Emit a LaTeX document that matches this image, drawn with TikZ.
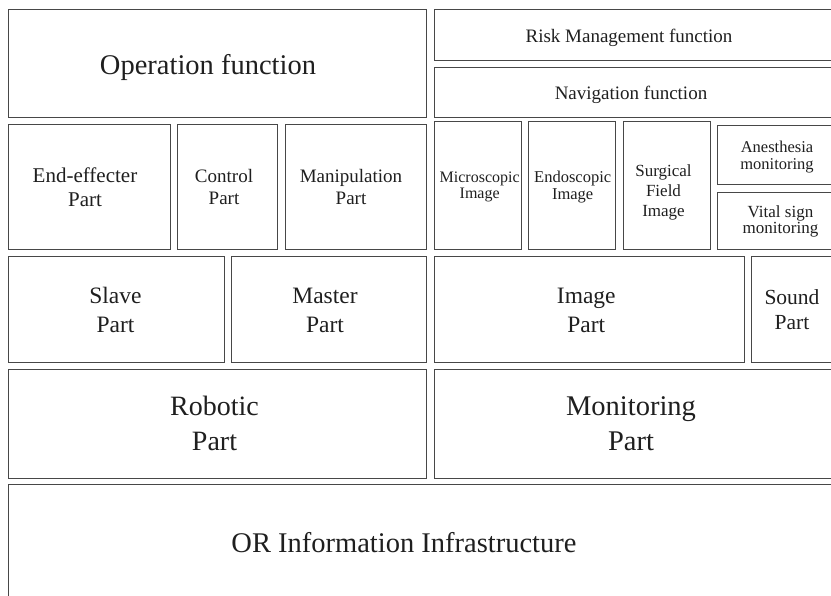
\documentclass[tikz,border=0pt]{standalone}
\usepackage{fontspec}
\setmainfont{Liberation Serif}
\usetikzlibrary{fit}
\newcommand{\mylbl}[3]{\fontsize{#1}{#2}\selectfont\begin{tabular}[t]{@{}c@{}}#3\end{tabular}}
\tikzset{
  box/.style={draw=black!72, line width=0.9pt, inner sep=0pt, outer sep=0pt},
  lbl/.style={inner sep=0pt, outer sep=0pt, anchor=base, text=black!88}
}
\begin{document}
\begin{tikzpicture}[x=1pt,y=-1pt]
\useasboundingbox (0,0) rectangle (831,596);
\clip (0,0) rectangle (831,596);
% boxes
\node[box, fit={(8.5,9.5) (426.5,117)}] (op) {};
\node[box, fit={(434,9.5) (845,60)}] (risk) {};
\node[box, fit={(434,67.5) (845,117)}] (nav) {};
\node[box, fit={(8.5,124.5) (170,249)}] (ee) {};
\node[box, fit={(177,124.5) (277.5,249)}] (ctrl) {};
\node[box, fit={(285,124.5) (426.5,249)}] (man) {};
\node[box, fit={(434,121) (521,249)}] (mic) {};
\node[box, fit={(528.7,121) (615.7,249)}] (endo) {};
\node[box, fit={(623,121) (710.3,249)}] (sur) {};
\node[box, fit={(717,125) (845,184)}] (ane) {};
\node[box, fit={(717,192) (845,249)}] (vit) {};
\node[box, fit={(8.5,256.7) (224,362)}] (slave) {};
\node[box, fit={(231.3,256.7) (426.5,362)}] (master) {};
\node[box, fit={(434,256.7) (744.3,362)}] (image) {};
\node[box, fit={(751.7,256.7) (845,362)}] (sound) {};
\node[box, fit={(8.5,369.3) (426.5,478)}] (rob) {};
\node[box, fit={(434,369.3) (845,478)}] (mon) {};
\node[box, fit={(8.5,484.3) (845,620)}] (orb) {};
% labels
\node[lbl] (opT) at (208,75) {\mylbl{28.5}{34}{Operation function}};
\node[lbl] (riskT) at (629,42.7) {\mylbl{19}{22}{Risk Management function}};
\node[lbl] (navT) at (631,99.3) {\mylbl{19}{22}{Navigation function}};
\node[lbl] (eeT) at (85,182.3) {\mylbl{21}{24.4}{End-effecter\\Part}};
\node[lbl] (ctrlT) at (224,182.7) {\mylbl{19}{22.3}{Control\\Part}};
\node[lbl] (manT) at (351,182.7) {\mylbl{19}{22.3}{Manipulation\\Part}};
\node[lbl] (micT) at (479.7,182.7) {\mylbl{16}{15.7}{Microscopic\\Image}};
\node[lbl] (endT) at (572.7,182.7) {\mylbl{16.5}{17.3}{Endoscopic\\Image}};
\node[lbl] (surT) at (663.5,176.7) {\mylbl{17}{19.7}{Surgical\\Field\\Image}};
\node[lbl] (aneT) at (777,152.7) {\mylbl{16.5}{17.3}{Anesthesia\\monitoring}};
\node[lbl] (vitT) at (780.5,217.3) {\mylbl{17}{16}{Vital sign\\monitoring}};
\node[lbl] (slaveT) at (115.5,303.3) {\mylbl{23.5}{29}{Slave\\Part}};
\node[lbl] (masterT) at (325,303.3) {\mylbl{23.5}{29}{Master\\Part}};
\node[lbl] (imageT) at (586.3,303.3) {\mylbl{23.5}{29}{Image\\Part}};
\node[lbl] (soundT) at (792,304.3) {\mylbl{21.5}{25.7}{Sound\\Part}};
\node[lbl] (robT) at (214.5,415.7) {\mylbl{28}{35}{Robotic\\Part}};
\node[lbl] (monT) at (631,415.7) {\mylbl{28.5}{35}{Monitoring\\Part}};
\node[lbl] (orT) at (404,552.7) {\mylbl{28.5}{34}{OR Information Infrastructure}};
\end{tikzpicture}
\end{document}
